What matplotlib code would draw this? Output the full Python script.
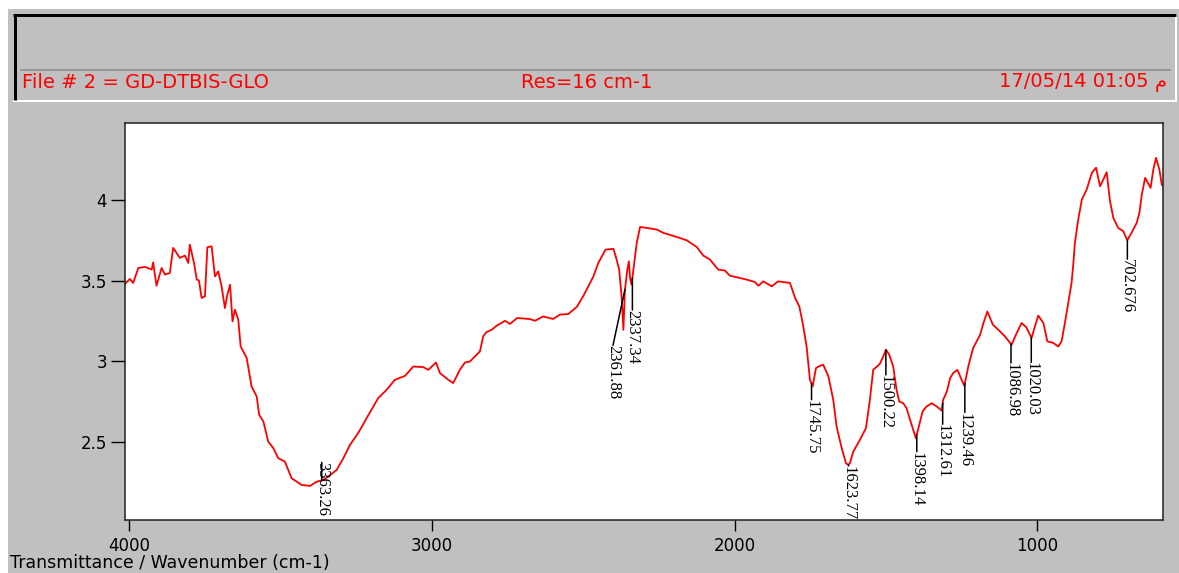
import numpy as np
import matplotlib
matplotlib.use('Agg')
import matplotlib.pyplot as plt
from matplotlib.lines import Line2D
from matplotlib.patches import Rectangle

# spectrum (wavenumber cm-1, transmittance)
wavenumber = [4012, 3997, 3986, 3969, 3947, 3925, 3920, 3909, 3892, 3881, 3865, 3854,
              3832, 3815, 3804, 3799, 3785, 3776, 3769, 3760, 3749, 3741, 3727, 3716,
              3705, 3694, 3683, 3675, 3666, 3658, 3650, 3639, 3631, 3611, 3595, 3578,
              3570, 3556, 3540, 3523, 3507, 3485, 3463, 3430, 3402, 3380, 3358, 3342,
              3314, 3292, 3270, 3243, 3215, 3177, 3149, 3122, 3088, 3061, 3028, 3011,
              2986, 2973, 2945, 2929, 2907, 2890, 2874, 2841, 2830, 2819, 2802, 2786,
              2758, 2742, 2718, 2676, 2659, 2632, 2599, 2577, 2549, 2521, 2500, 2467,
              2450, 2426, 2400, 2391, 2381, 2373, 2367, 2362, 2354, 2349, 2345, 2340,
              2334, 2323, 2312, 2290, 2257, 2235, 2191, 2158, 2125, 2103, 2081, 2054,
              2032, 2015, 1982, 1960, 1933, 1921, 1905, 1877, 1856, 1817, 1800, 1786,
              1775, 1762, 1751, 1742, 1731, 1718, 1707, 1690, 1674, 1663, 1646, 1632,
              1624, 1619, 1608, 1586, 1566, 1553, 1542, 1529, 1520, 1509, 1500, 1489,
              1476, 1465, 1456, 1443, 1432, 1415, 1401, 1390, 1379, 1366, 1349, 1332,
              1316, 1311, 1299, 1288, 1278, 1264, 1250, 1241, 1228, 1212, 1189, 1178,
              1165, 1147, 1129, 1107, 1085, 1068, 1052, 1037, 1019, 1008, 997, 980,
              967, 947, 931, 920, 909, 898, 887, 881, 876, 865, 853, 837,
              820, 806, 793, 782, 771, 760, 749, 733, 716, 703, 689, 672,
              663, 655, 644, 626, 617, 608, 597, 589, 586]
transmittance = [3.482, 3.511, 3.486, 3.579, 3.586, 3.569, 3.614, 3.469, 3.579, 3.538, 3.548, 3.704,
                 3.642, 3.656, 3.610, 3.724, 3.610, 3.507, 3.502, 3.393, 3.403, 3.708, 3.714, 3.527,
                 3.558, 3.465, 3.330, 3.413, 3.475, 3.247, 3.320, 3.258, 3.091, 3.019, 2.843, 2.780,
                 2.667, 2.625, 2.500, 2.459, 2.397, 2.376, 2.273, 2.231, 2.225, 2.251, 2.262, 2.283,
                 2.324, 2.397, 2.480, 2.553, 2.646, 2.770, 2.822, 2.884, 2.909, 2.967, 2.963, 2.946,
                 2.992, 2.926, 2.884, 2.864, 2.947, 2.992, 2.998, 3.060, 3.154, 3.181, 3.195, 3.220,
                 3.251, 3.231, 3.268, 3.262, 3.251, 3.278, 3.262, 3.289, 3.293, 3.337, 3.403, 3.523,
                 3.610, 3.693, 3.698, 3.642, 3.569, 3.403, 3.195, 3.444, 3.569, 3.620, 3.517, 3.475,
                 3.569, 3.735, 3.834, 3.828, 3.818, 3.797, 3.772, 3.751, 3.710, 3.656, 3.631, 3.569,
                 3.563, 3.531, 3.517, 3.507, 3.492, 3.469, 3.496, 3.465, 3.496, 3.486, 3.393, 3.340,
                 3.237, 3.091, 2.884, 2.843, 2.957, 2.971, 2.978, 2.905, 2.760, 2.594, 2.459, 2.366,
                 2.355, 2.366, 2.438, 2.511, 2.584, 2.760, 2.947, 2.967, 2.984, 3.029, 3.071, 3.040,
                 2.967, 2.822, 2.749, 2.739, 2.708, 2.604, 2.521, 2.604, 2.687, 2.718, 2.739, 2.718,
                 2.693, 2.760, 2.811, 2.895, 2.926, 2.946, 2.884, 2.847, 2.967, 3.082, 3.164, 3.237,
                 3.309, 3.227, 3.195, 3.154, 3.102, 3.175, 3.237, 3.212, 3.144, 3.216, 3.283, 3.237,
                 3.123, 3.113, 3.091, 3.123, 3.237, 3.362, 3.486, 3.610, 3.735, 3.880, 4.004, 4.067,
                 4.170, 4.202, 4.087, 4.129, 4.174, 3.994, 3.890, 3.828, 3.807, 3.751, 3.797, 3.859,
                 3.922, 4.035, 4.139, 4.077, 4.191, 4.264, 4.191, 4.098, 4.090]

peak_labels = ['3363.26', '2361.88', '2337.34', '1745.75', '1623.77', '1500.22',
               '1398.14', '1312.61', '1239.46', '1086.98', '1020.03', '702.676']
# where each label text sits relative to its peak (pixels: sideways, downward)
label_dx = [0, -12, 0, 0, 0, 0, 0, 0, 0, 0, 0, 0]
label_drop = [-18, 56, 32, 16, 1, 25, 17, 21, 29, 19, 25, 19]

x_ticks = [4000, 3000, 2000, 1000]
y_ticks = [2.5, 3, 3.5, 4]
y_tick_labels = ['2.5', '3', '3.5', '4']

file_text = 'File # 2 = GD-DTBIS-GLO'
res_text = 'Res=16 cm-1'
date_text = '17/05/14 01:05 م'
x_title = 'Transmittance / Wavenumber (cm-1)'

W, H = 1179, 573
GREY = '#c0c0c0'
RED = '#ff0000'
plt.rcParams['font.family'] = ['DejaVu Sans']


def fx(px):
    return px / W


def fy(py):
    return 1 - py / H


def lw(px):
    return px * 72 / 100


fig = plt.figure(figsize=(W / 100, H / 100), dpi=100, facecolor=GREY)

# white strips at top and left of the screenshot
fig.add_artist(Rectangle((0, fy(9)), 1, 1 - fy(9), transform=fig.transFigure,
                         color='white', lw=0))
fig.add_artist(Rectangle((0, 0), fx(8), 1, transform=fig.transFigure,
                         color='white', lw=0))

# header panel (sunken 3d box)
def hline(x0, x1, y, color, width):
    fig.add_artist(Line2D([fx(x0), fx(x1)], [fy(y), fy(y)], transform=fig.transFigure,
                          color=color, lw=lw(width), solid_capstyle='butt'))


def vline(x, y0, y1, color, width):
    fig.add_artist(Line2D([fx(x), fx(x)], [fy(y0), fy(y1)], transform=fig.transFigure,
                          color=color, lw=lw(width), solid_capstyle='butt'))


hline(13, 1177, 101, 'white', 2)
vline(1176, 14, 102, 'white', 2)
hline(13, 1176, 15, 'black', 3)
vline(15, 14, 100, 'black', 3)
hline(20, 1171, 69.5, '#8a8a8a', 1.5)

fig.text(fx(22), fy(82), file_text, color=RED, fontsize=14, va='center', ha='left')
fig.text(fx(521), fy(82), res_text, color=RED, fontsize=14, va='center', ha='left')
fig.text(fx(1167), fy(82), date_text, color=RED, fontsize=14, va='center', ha='right')

ax = fig.add_axes([fx(125), fy(520), fx(1163) - fx(125), fy(123) - fy(520)])
ax.set_facecolor('white')
ax.plot(wavenumber, transmittance, color=RED, lw=1.3)
ax.set_xlim(4013, 585)
ax.set_ylim(2.013, 4.48)

ax.set_xticks(x_ticks)
ax.set_xticklabels([str(t) for t in x_ticks])
ax.set_yticks(y_ticks)
ax.set_yticklabels(y_tick_labels)
ax.tick_params(axis='x', direction='out', length=8, width=1, pad=4, labelsize=12)
ax.tick_params(axis='y', direction='out', length=10, width=1, pad=3, labelsize=12)
for s in ax.spines.values():
    s.set_linewidth(1.1)
    s.set_color('#202020')

# peak labels
wn_up = np.array(wavenumber[::-1], dtype=float)
tr_up = np.array(transmittance[::-1], dtype=float)
for lab, dx, drop in zip(peak_labels, label_dx, label_drop):
    p = float(lab)
    yv = np.interp(p, wn_up, tr_up)
    ax.annotate(lab, xy=(p, yv), xytext=(dx, -drop), textcoords='offset pixels',
                rotation=270, ha='center', va='top', fontsize=12,
                family='Liberation Serif', color='black',
                arrowprops=dict(arrowstyle='-', color='black', lw=1.1,
                                shrinkA=0, shrinkB=0, patchA=None,
                                relpos=(0.5, 1.0)))

fig.text(fx(10), fy(563), x_title, fontsize=12.5, va='center', ha='left')

fig.savefig('out.png', dpi=100, facecolor=GREY)
